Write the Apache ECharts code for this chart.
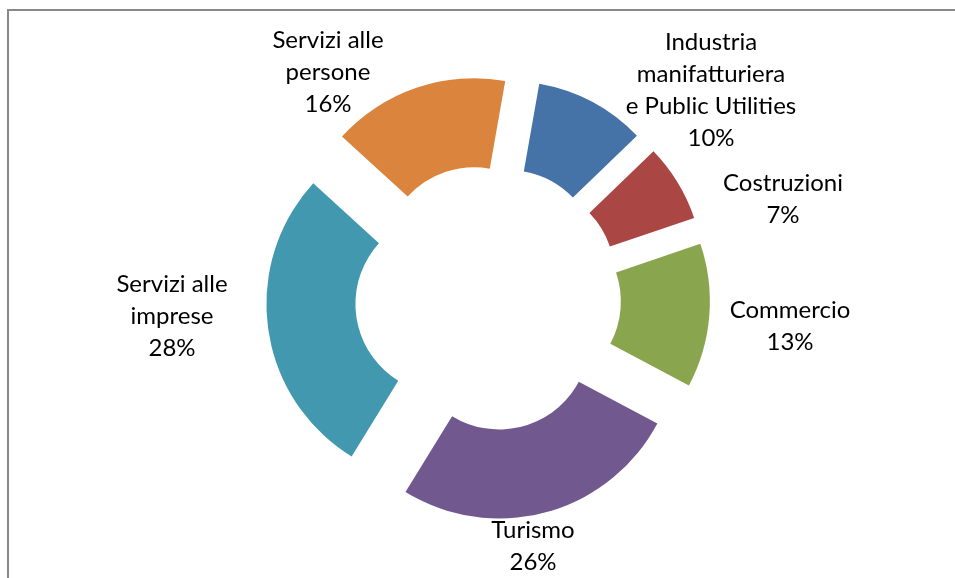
<!DOCTYPE html>
<html>
<head>
<meta charset="utf-8">
<title>Distribuzione per settore</title>
<script src="https://cdn.jsdelivr.net/npm/echarts@6/dist/echarts.min.js"></script>
<style>
  html, body { margin: 0; padding: 0; background: #fff; }
  #settori { width: 955px; height: 578px; }
</style>
</head>
<body>
<div id="settori"></div>
<script>
// dati del grafico (quote %)
const categories = [
  'Industria\nmanifatturiera\ne Public Utilities',
  'Costruzioni',
  'Commercio',
  'Turismo',
  'Servizi alle\nimprese',
  'Servizi alle\npersone'
]
const values = [10, 7, 13, 26, 28, 16]

const colors = ['#4572A7', '#AA4643', '#89A54E', '#71588F', '#4198AF', '#DB843D']
const center = [488, 298]
// posizione delle etichette, relativa al centro della ciambella
const labelOffsets = [[223, -208], [295, -99], [302, 28], [45, 248], [-316, 18], [-160, -226]]

const chart = echarts.init(document.getElementById('settori'))

// etichette stile Excel: centrate, su più righe
let labels = categories.map((name, i) => ({
  type: 'text',
  x: center[0] + labelOffsets[i][0],
  y: center[1] + labelOffsets[i][1],
  silent: true,
  style: {
    text: name + '\n' + values[i] + '%',
    fill: '#000',
    font: '24px Lato',
    lineHeight: 32,
    align: 'center',
    verticalAlign: 'middle',
    textAlign: 'center',
    textVerticalAlign: 'middle'
  }
}))

let option = {
  animation: false,
  backgroundColor: '#fff',
  graphic: [
    {
      type: 'rect',
      shape: { x: 8, y: 10, width: 1000, height: 1000 },
      style: { fill: 'none', stroke: '#898989', lineWidth: 2 },
      silent: true
    }
  ].concat(labels),
  series: [
    {
      type: 'pie',
      center: center,
      radius: [90, 179],
      startAngle: 80,
      clockwise: true,
      selectedMode: 'multiple',
      selectedOffset: 43,
      emphasis: { disabled: true },
      itemStyle: { borderWidth: 0 },
      label: { show: false },
      labelLine: { show: false },
      data: categories.map((name, i) => ({
        name: name,
        value: values[i],
        selected: true,
        itemStyle: { color: colors[i] }
      }))
    }
  ]
}
chart.setOption(option)
</script>
</body>
</html>
